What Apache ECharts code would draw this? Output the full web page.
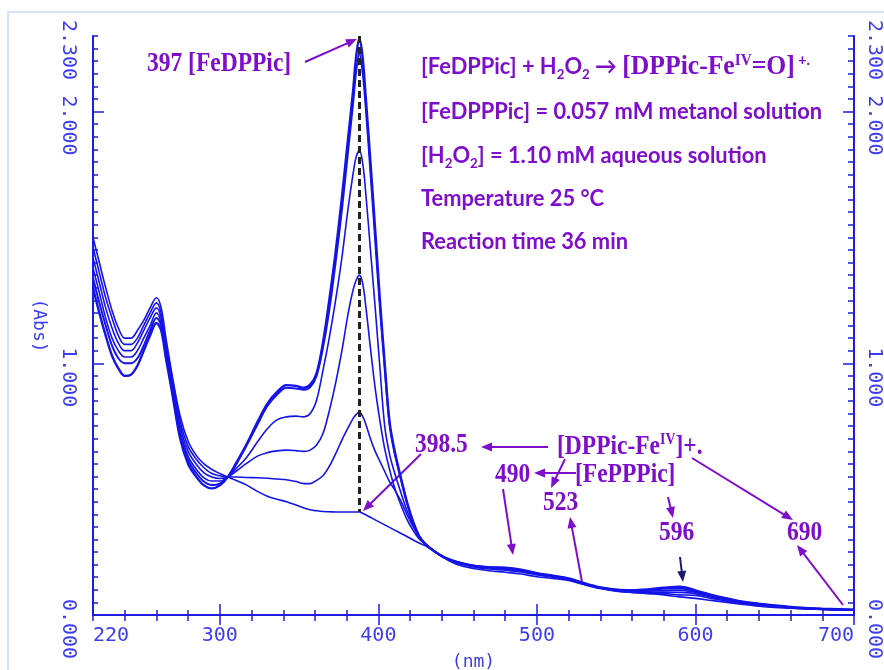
<!DOCTYPE html>
<html><head><meta charset="utf-8">
<script src="https://cdn.jsdelivr.net/npm/echarts@6.0.0/dist/echarts.min.js"></script>
<style>html,body{margin:0;padding:0;background:#fff}#c{width:884px;height:670px}</style>
</head><body><div id="c"></div>
<script>
// ---- data (wavelength in nm, absorbance) ----
const WAVELENGTH = [220,224,228,232,236,240,244,248,252,256,260,263,266,270,275,280,285,290,295,300,
  305,310,317,324,330,336,342,348,353,357,361,365,369,373,377,381,384,386,388,390,392,395,398,401,404,407,410,414,418,422,426,430,
  436,442,450,460,470,480,490,500,510,520,530,540,550,560,570,580,590,600,610,620,630,640,650,660,670,680,690,700];

const ABS_T0 = [1.30,1.20,1.11,1.03,0.98,0.95,0.955,0.99,1.05,1.11,1.16,1.13,1.02,0.88,0.70,0.60,0.55,0.515,0.503,0.515,
  0.548,0.60,0.68,0.77,0.84,0.885,0.913,0.91,0.903,0.915,0.96,1.08,1.25,1.44,1.66,1.90,2.08,2.22,2.29,2.22,2.06,1.80,1.53,1.25,1.00,0.77,0.66,0.55,0.45,0.37,0.31,0.28,
  0.25,0.228,0.21,0.196,0.19,0.188,0.18,0.166,0.156,0.145,0.126,0.11,0.101,0.099,0.102,0.108,0.112,0.098,0.08,0.066,0.053,0.045,0.038,0.032,0.028,0.025,0.023,0.021];
const ABS_T1 = [1.34,1.24,1.15,1.07,1.02,1.00,1.00,1.02,1.07,1.13,1.18,1.15,1.03,0.89,0.71,0.615,0.565,0.53,0.516,0.522,
  0.548,0.595,0.675,0.76,0.83,0.875,0.903,0.90,0.895,0.905,0.95,1.06,1.21,1.40,1.61,1.85,2.03,2.16,2.23,2.16,2.02,1.76,1.49,1.22,0.98,0.76,0.65,0.545,0.445,0.365,0.31,0.28,
  0.25,0.228,0.21,0.196,0.19,0.187,0.179,0.165,0.155,0.144,0.125,0.109,0.1,0.097,0.099,0.104,0.106,0.094,0.078,0.064,0.052,0.044,0.037,0.031,0.027,0.024,0.022,0.021];
const ABS_T2 = [1.38,1.28,1.18,1.10,1.05,1.025,1.025,1.05,1.10,1.15,1.20,1.16,1.05,0.90,0.73,0.63,0.58,0.545,0.532,0.532,
  0.548,0.58,0.627,0.69,0.74,0.775,0.787,0.79,0.787,0.80,0.853,0.97,1.10,1.25,1.42,1.62,1.75,1.82,1.845,1.80,1.68,1.45,1.22,0.98,0.75,0.64,0.57,0.49,0.415,0.355,0.305,0.28,
  0.25,0.227,0.209,0.195,0.188,0.184,0.178,0.164,0.154,0.143,0.124,0.108,0.099,0.095,0.095,0.097,0.099,0.09,0.075,0.062,0.05,0.042,0.036,0.03,0.026,0.024,0.022,0.02];
const ABS_T3 = [1.42,1.32,1.22,1.14,1.08,1.05,1.05,1.08,1.13,1.18,1.22,1.18,1.06,0.92,0.75,0.65,0.60,0.565,0.548,0.542,
  0.548,0.57,0.603,0.632,0.645,0.652,0.655,0.653,0.65,0.655,0.675,0.72,0.81,0.92,1.05,1.20,1.29,1.33,1.35,1.32,1.23,1.06,0.90,0.77,0.66,0.58,0.51,0.44,0.38,0.335,0.30,0.28,
  0.25,0.226,0.207,0.193,0.186,0.181,0.175,0.162,0.152,0.141,0.122,0.107,0.097,0.092,0.091,0.091,0.09,0.085,0.071,0.058,0.047,0.04,0.034,0.029,0.025,0.023,0.021,0.02];
const ABS_T4 = [1.46,1.36,1.26,1.18,1.11,1.075,1.075,1.10,1.15,1.20,1.24,1.20,1.08,0.94,0.77,0.67,0.62,0.585,0.562,0.553,
  0.548,0.548,0.546,0.545,0.543,0.54,0.537,0.53,0.522,0.522,0.535,0.553,0.59,0.64,0.695,0.745,0.78,0.797,0.806,0.79,0.76,0.70,0.65,0.61,0.57,0.53,0.50,0.455,0.40,0.35,0.31,0.28,
  0.25,0.226,0.206,0.191,0.183,0.178,0.171,0.159,0.15,0.14,0.121,0.106,0.096,0.09,0.087,0.085,0.08,0.078,0.066,0.055,0.045,0.038,0.033,0.028,0.025,0.022,0.021,0.02];
const ABS_T5 = [1.50,1.40,1.30,1.21,1.14,1.10,1.10,1.13,1.17,1.22,1.26,1.22,1.10,0.95,0.79,0.69,0.635,0.60,0.578,0.562,
  0.548,0.535,0.516,0.49,0.472,0.46,0.45,0.437,0.425,0.418,0.414,0.411,0.41,0.409,0.409,0.409,0.409,0.409,0.409,0.404,0.398,0.388,0.378,0.368,0.358,0.348,0.338,0.325,0.312,0.298,0.285,0.274,
  0.25,0.225,0.2,0.185,0.176,0.17,0.163,0.152,0.145,0.137,0.12,0.105,0.095,0.09,0.085,0.08,0.072,0.066,0.058,0.05,0.042,0.035,0.03,0.027,0.024,0.022,0.02,0.019];

const X_TICK_LABELS = [220,300,400,500,600,700];
const X_MAJOR_TICKS = [300,400,500,600,700];
const Y_TICK_LABELS = [0,1,2,2.3];
const Y_MAJOR_TICKS = [1,2];
const PEAK_NM = 388, PEAK_TOP = 2.3, PEAK_BASE = 0.409;

// ---- styles ----
const BLUE = '#1c1ce6', LABEL_BLUE = '#3d3df0', LINE_BLUE = '#1414e8';
const PURPLE = '#7e0ecc', NAVY = '#1c1c6e';
const MONO = 'DejaVu Sans Mono';

const chart = echarts.init(document.getElementById('c'), null, {renderer: 'canvas'});

const xFmt = v => X_TICK_LABELS.some(L => Math.abs(L - v) < 1e-6) ? String(Math.round(v)) : '';
const yFmt = v => Y_TICK_LABELS.some(L => Math.abs(L - v) < 1e-6) ? v.toFixed(3) : '';

const tickStyle = {color: BLUE, width: 1.5};
const baseX = {type: 'value', min: 220, max: 700, splitLine: {show: false}};
const baseY = {type: 'value', min: 0, max: 2.3, splitLine: {show: false}};

const axisLabelStyle = {color: LABEL_BLUE, fontFamily: MONO, fontSize: 20};

const SERIES_LIST = [ABS_T0, ABS_T1, ABS_T2, ABS_T3, ABS_T4, ABS_T5];
const WIDTHS = [2.4, 2.0, 1.6, 1.6, 1.6, 1.6];

// annotation arrows (pixel layout of the slide callouts)
const ARROWS = [
  [[305,62],[357,39], PURPLE],
  [[421,454],[363,511], PURPLE],
  [[548,447],[481,447], PURPLE],
  [[576,473],[534,473], PURPLE],
  [[565,459],[551,488], PURPLE],
  [[503,489],[513,555], PURPLE],
  [[582,582],[570,517], PURPLE],
  [[668,497],[673,518], PURPLE],
  [[680,557],[683,582], NAVY],
  [[692,458],[793,520], PURPLE],
  [[843,605],[797,545], PURPLE]
];

function arrowGraphic(a) {
  const [x1, y1] = a[0], [x2, y2] = a[1], col = a[2];
  const dx = x2 - x1, dy = y2 - y1, len = Math.hypot(dx, dy);
  const ux = dx / len, uy = dy / len, L = 11, W = 4.5;
  const bx = x2 - ux * L, by = y2 - uy * L;
  return {
    type: 'group', z: 12, silent: true, children: [
      {type: 'line', shape: {x1: x1, y1: y1, x2: bx + ux * 2, y2: by + uy * 2}, style: {stroke: col, lineWidth: 2}},
      {type: 'polygon', shape: {points: [[x2, y2], [bx - uy * W, by + ux * W], [bx + uy * W, by - ux * W]]}, style: {fill: col}}
    ]
  };
}

const series = SERIES_LIST.map((vals, i) => ({
  type: 'line', xAxisIndex: 0, yAxisIndex: 0,
  data: WAVELENGTH.map((w, j) => [w, vals[j]]),
  showSymbol: false, symbol: 'none', smooth: 0.35,
  lineStyle: {color: LINE_BLUE, width: WIDTHS[i]}, silent: true, z: 2
}));

series.push({
  type: 'line', xAxisIndex: 0, yAxisIndex: 0, data: [], silent: true, z: 5,
  markLine: {
    silent: true, animation: false, symbol: ['none', 'none'],
    label: {show: false}, emphasis: {disabled: true},
    lineStyle: {color: '#222', width: 3, type: [7, 4]},
    data: [[{coord: [PEAK_NM, PEAK_TOP]}, {coord: [PEAK_NM, PEAK_BASE]}]]
  }
});

const sansRich = {
  s: {fontFamily: 'Lato', fontWeight: 'bold', fontSize: 23, lineHeight: 28, fill: PURPLE, color: PURPLE},
  b: {fontFamily: 'Lato', fontWeight: 'bold', fontSize: 14, lineHeight: 14, verticalAlign: 'bottom', fill: PURPLE, color: PURPLE},
  t: {fontFamily: 'Liberation Serif', fontWeight: 'bold', fontSize: 27, lineHeight: 28, fill: PURPLE, color: PURPLE},
  u: {fontFamily: 'Liberation Serif', fontWeight: 'bold', fontSize: 16, lineHeight: 15, verticalAlign: 'top', fill: PURPLE, color: PURPLE},
  v: {fontFamily: 'Lato', fontWeight: 'bold', fontSize: 15, lineHeight: 15, verticalAlign: 'top', fill: PURPLE, color: PURPLE}
};
const serifRich = {
  t: {fontFamily: 'Liberation Serif', fontWeight: 'bold', fontSize: 27, lineHeight: 30, fill: PURPLE, color: PURPLE},
  u: {fontFamily: 'Liberation Serif', fontWeight: 'bold', fontSize: 16, lineHeight: 16, verticalAlign: 'top', fill: PURPLE, color: PURPLE}
};

function txt(x, y, text, rich, sx) {
  return {type: 'text', x: x, y: y, scaleX: sx, z: 10, silent: true,
    style: {text: text, rich: rich, fill: PURPLE, align: 'left', verticalAlign: 'middle', textAlign: 'left', textVerticalAlign: 'middle'}};
}

const SX_SANS = 0.95, SX_SERIF = 0.87;

const option = {
  animation: false,
  backgroundColor: '#fff',
  grid: {left: 93, right: 30, top: 36, bottom: 55, containLabel: false, outerBoundsMode: 'none'},
  xAxis: [
    Object.assign({}, baseX, {position: 'bottom', interval: 20,
      axisLine: {lineStyle: {color: BLUE, width: 2}},
      axisTick: {inside: true, length: 5, lineStyle: tickStyle},
      axisLabel: Object.assign({}, axisLabelStyle, {formatter: xFmt, margin: 11, alignMinLabel: 'left', alignMaxLabel: 'right'}),
      name: '(nm)', nameLocation: 'middle', nameGap: 38,
      nameTextStyle: {color: LABEL_BLUE, fontFamily: MONO, fontSize: 18}}),
    Object.assign({}, baseX, {position: 'bottom',
      axisLine: {show: false},
      axisTick: {customValues: X_MAJOR_TICKS, inside: true, length: 11, lineStyle: tickStyle},
      axisLabel: {show: false}}),
    Object.assign({}, baseX, {position: 'top', interval: 20,
      axisLine: {lineStyle: {color: BLUE, width: 2}},
      axisTick: {inside: true, length: 6, lineStyle: tickStyle},
      axisLabel: {show: false}}),
    Object.assign({}, baseX, {position: 'top',
      axisLine: {show: false},
      axisTick: {customValues: X_MAJOR_TICKS, inside: true, length: 10, lineStyle: tickStyle},
      axisLabel: {show: false}})
  ],
  yAxis: [
    Object.assign({}, baseY, {position: 'left', interval: 0.05,
      axisLine: {lineStyle: {color: BLUE, width: 2}},
      axisTick: {inside: true, length: 5, lineStyle: tickStyle},
      axisLabel: Object.assign({}, axisLabelStyle, {formatter: yFmt, rotate: -90, margin: 15, padding: [0, 0, 0, 28]}),
      name: '(Abs)', nameLocation: 'middle', nameRotate: -90, nameGap: 45,
      nameTextStyle: {color: LABEL_BLUE, fontFamily: MONO, fontSize: 18}}),
    Object.assign({}, baseY, {position: 'left',
      axisLine: {show: false},
      axisTick: {customValues: Y_MAJOR_TICKS, inside: true, length: 11, lineStyle: tickStyle},
      axisLabel: {show: false}}),
    Object.assign({}, baseY, {position: 'right', interval: 0.05,
      axisLine: {lineStyle: {color: BLUE, width: 2}},
      axisTick: {inside: true, length: 6, lineStyle: tickStyle},
      axisLabel: Object.assign({}, axisLabelStyle, {formatter: yFmt, rotate: -90, margin: 10, padding: [0, 0, 0, 28]})}),
    Object.assign({}, baseY, {position: 'right',
      axisLine: {show: false},
      axisTick: {customValues: Y_MAJOR_TICKS, inside: true, length: 11, lineStyle: tickStyle},
      axisLabel: {show: false}})
  ],
  graphic: [
    {type: 'rect', z: 0, silent: true, shape: {x: 8, y: 12, width: 900, height: 700},
      style: {fill: 'none', stroke: '#d4e3f5', lineWidth: 2}},
    txt(421, 67, '{s|[FeDPPic] + H}{b|2}{s|O}{b|2}{s| → }{t|[DPPic-Fe}{u|IV}{t|=O]}{v| +.}', sansRich, SX_SANS),
    txt(421, 112, '{s|[FeDPPPic] = 0.057 mM metanol solution}', sansRich, SX_SANS),
    txt(421, 156, '{s|[H}{b|2}{s|O}{b|2}{s|] = 1.10 mM aqueous solution}', sansRich, SX_SANS),
    txt(421, 199, '{s|Temperature 25 °C}', sansRich, SX_SANS),
    txt(421, 242, '{s|Reaction time 36 min}', sansRich, SX_SANS),
    txt(147, 64, '{t|397 [FeDPPic]}', serifRich, SX_SERIF),
    txt(415, 445, '{t|398.5}', serifRich, SX_SERIF),
    txt(557, 447, '{t|[DPPic-Fe}{u|IV}{t|]+.}', serifRich, SX_SERIF),
    txt(495, 475, '{t|490}', serifRich, SX_SERIF),
    txt(575, 475, '{t|[FePPPic]}', serifRich, SX_SERIF),
    txt(543, 503, '{t|523}', serifRich, SX_SERIF),
    txt(659, 533, '{t|596}', serifRich, SX_SERIF),
    txt(787, 533, '{t|690}', serifRich, SX_SERIF)
  ].concat(ARROWS.map(arrowGraphic)),
  series: series
};
chart.setOption(option);
</script>
</body></html>
